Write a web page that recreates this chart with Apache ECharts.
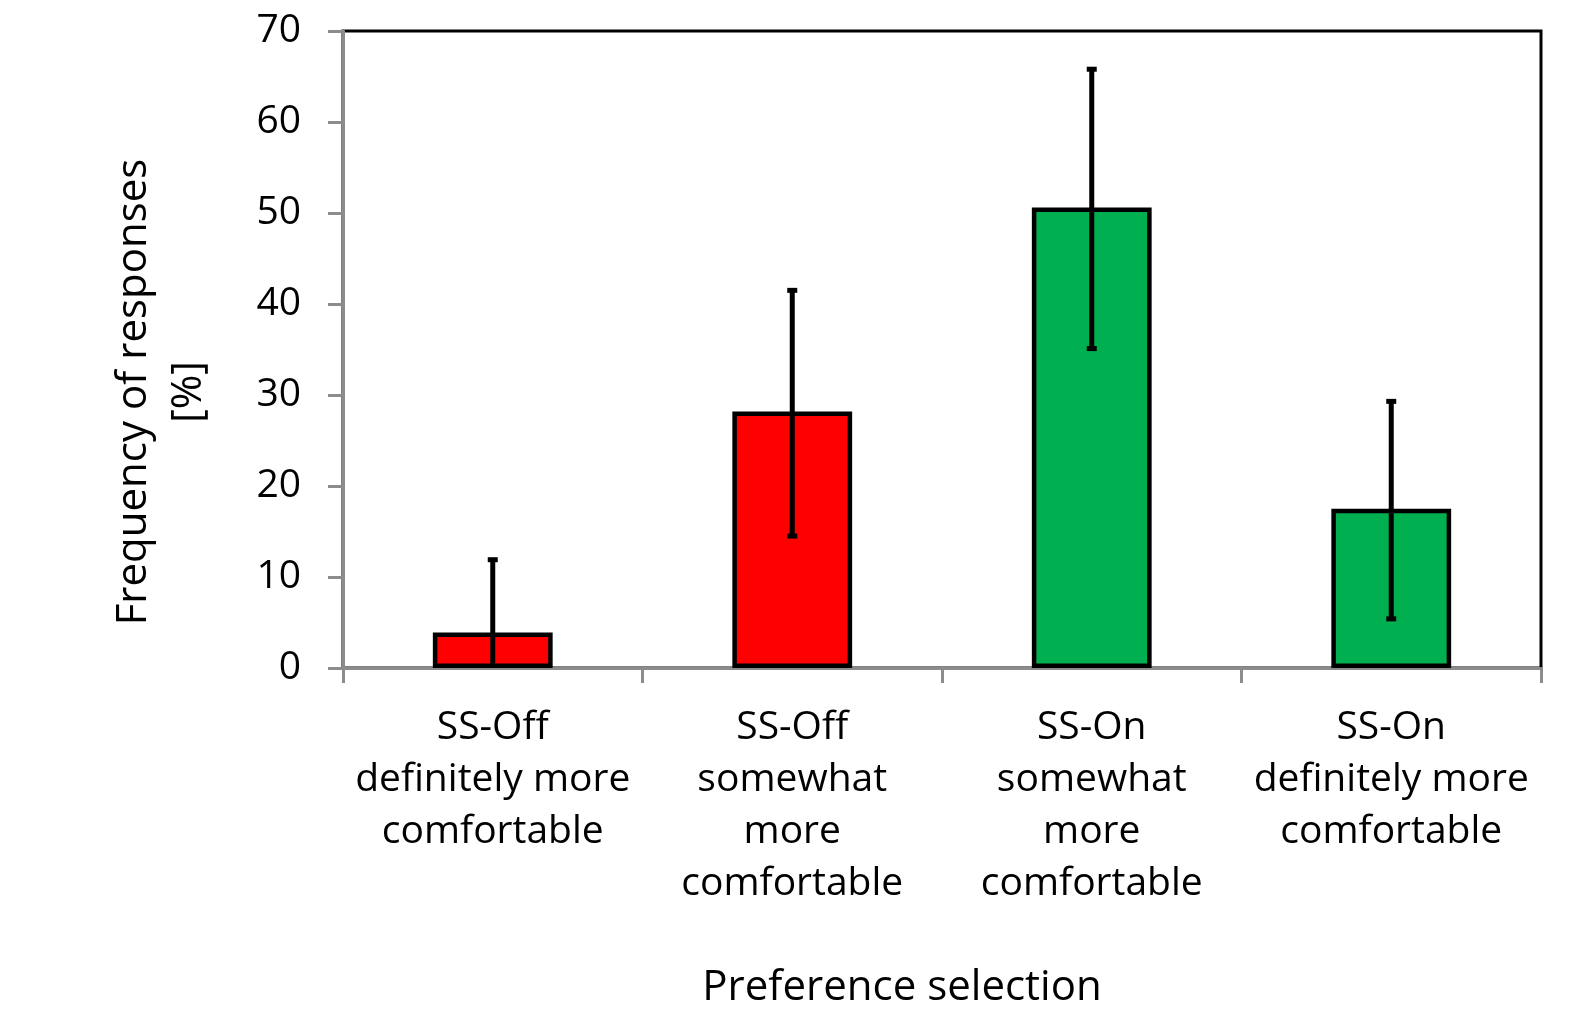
<!DOCTYPE html>
<html><head><meta charset="utf-8">
<script src="https://cdn.jsdelivr.net/npm/echarts@6/dist/echarts.min.js"></script>
<style>html,body{margin:0;padding:0;background:#fff}#c{width:1569px;height:1024px}</style>
</head><body><div id="c"></div>
<script>
const categories = ["SS-Off\ndefinitely more\ncomfortable","SS-Off\nsomewhat\nmore\ncomfortable","SS-On\nsomewhat\nmore\ncomfortable","SS-On\ndefinitely more\ncomfortable"];
const values = [3.9, 28.2, 50.6, 17.5];
const errLow = [0, 14.5, 35.1, 5.4];
const errHigh = [11.9, 41.5, 65.8, 29.3];
const colors = ["#FF0000","#FF0000","#00B050","#00B050"];
const yTicks = [0,10,20,30,40,50,60,70];
const FONT = "Open Sans";

const chart = echarts.init(document.getElementById('c'));
chart.setOption({
  animation:false,
  grid:{left:343,right:28,top:31,bottom:356,show:true,borderColor:'#000',borderWidth:3,backgroundColor:'transparent'},
  xAxis:{type:'category',data:categories,
    axisLine:{show:true,lineStyle:{color:'#8c8c8c',width:3}},
    axisTick:{show:true,alignWithLabel:false,length:15,lineStyle:{color:'#8c8c8c',width:3}},
    axisLabel:{fontFamily:FONT,fontSize:39,color:'#000',lineHeight:52,margin:34,interval:0}
  },
  yAxis:{type:'value',min:0,max:70,interval:10,
    axisLine:{show:true,lineStyle:{color:'#8c8c8c',width:3}},
    axisTick:{show:true,length:15,lineStyle:{color:'#8c8c8c',width:3}},
    splitLine:{show:false},
    axisLabel:{fontFamily:FONT,fontSize:39,color:'#000',margin:42,formatter:v=>yTicks.includes(v)?String(v):''}
  },
  graphic:[
    {type:'text',x:162,y:392,rotation:Math.PI/2,style:{text:'Frequency of responses\n[%]',font:'42px "Open Sans"',fill:'#000',textAlign:'center',textVerticalAlign:'middle',lineHeight:55}},
    {type:'text',x:902,y:988,style:{text:'Preference selection',font:'500 42px "Open Sans"',fill:'#000',textAlign:'center',textVerticalAlign:'middle'}}
  ],
  series:[
    {type:'bar',barWidth:'40%',
      data:values.map((v,i)=>({value:v,itemStyle:{color:colors[i]}})),
      itemStyle:{borderColor:'#000',borderWidth:4.5}
    },
    {type:'custom',z:10,
      data:values.map((v,i)=>[i,errLow[i],errHigh[i]]),
      renderItem:function(params,api){
        const lo=api.coord([api.value(0),api.value(1)]);
        const hi=api.coord([api.value(0),api.value(2)]);
        const x=lo[0];
        const ch=[];
        ch.push({type:'line',shape:{x1:x,y1:lo[1],x2:x,y2:hi[1]},style:{stroke:'#000',lineWidth:5}});
        ch.push({type:'line',shape:{x1:x-5,y1:hi[1],x2:x+5,y2:hi[1]},style:{stroke:'#000',lineWidth:5}});
        if(api.value(1)>0) ch.push({type:'line',shape:{x1:x-5,y1:lo[1],x2:x+5,y2:lo[1]},style:{stroke:'#000',lineWidth:5}});
        return {type:'group',children:ch};
      }
    }
  ]
});
</script></body></html>
